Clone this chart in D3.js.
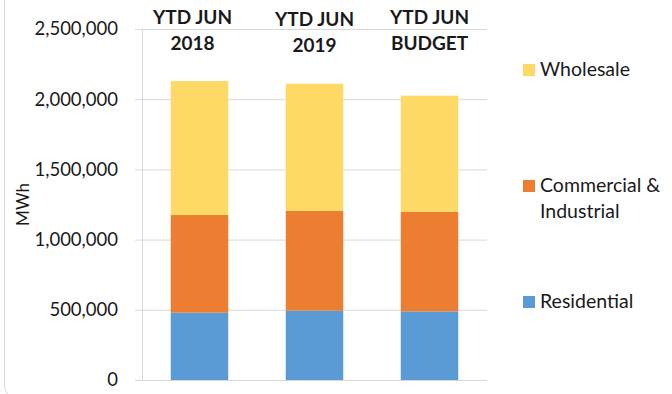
<!DOCTYPE html>
<html>
<head>
<meta charset="utf-8">
<script src="https://cdn.jsdelivr.net/npm/d3@7"></script>
<style>
  html, body { margin: 0; padding: 0; background: #fff; }
  text { font-family: Lato, "Open Sans", sans-serif; fill: #1a1a1a; }
</style>
</head>
<body>
<div id="chart-wrap"></div>
<script>
const categories = [['YTD JUN', '2018'], ['YTD JUN', '2019'], ['YTD JUN', 'BUDGET']];
const residential = [479000, 494000, 489000];
const commercial = [696000, 710000, 708000];
const wholesale = [954000, 906000, 828000];
const seriesNames = ['Residential', 'Commercial & Industrial', 'Wholesale'];
const tickValues = [0, 500000, 1000000, 1500000, 2000000, 2500000];

const colors = ['#5B9BD5', '#ED7D31', '#FFD966'];
const width = 672;
const height = 394;
const margin = { top: 29, right: 185, bottom: 14, left: 142 };

const svg = d3.select('#chart-wrap').append('svg')
  .attr('width', width)
  .attr('height', height);

// outer frame
svg.append('rect')
  .attr('x', 4.5)
  .attr('y', -20)
  .attr('width', 720)
  .attr('height', 418)
  .attr('rx', 12)
  .attr('fill', 'none')
  .attr('stroke', '#d9d9d9');

const x = d3.scaleBand()
  .domain(d3.range(categories.length))
  .range([margin.left, width - margin.right])
  .paddingInner(0.5)
  .paddingOuter(0.25);

const y = d3.scaleLinear()
  .domain([0, 2500000])
  .range([height - margin.bottom, margin.top]);

// gridlines + ticks
const yAxis = d3.axisLeft(y)
  .tickValues(tickValues)
  .tickSize(-(width - margin.right - margin.left))
  .tickSizeOuter(0)
  .tickPadding(24)
  .tickFormat(d3.format(','));

const gy = svg.append('g')
  .attr('transform', `translate(${margin.left},0)`)
  .call(yAxis);
gy.select('.domain').attr('stroke', '#d9d9d9');
gy.selectAll('.tick line').attr('stroke', '#d9d9d9');
gy.selectAll('.tick').append('line')
  .attr('x1', -7).attr('x2', 0)
  .attr('stroke', '#d9d9d9');
gy.selectAll('.tick text')
  .attr('font-size', 18.5)
  .attr('font-family', 'Lato, sans-serif')
  .attr('fill', '#1a1a1a');

// stacked bars
const rows = categories.map((c, i) => ({
  i,
  Residential: residential[i],
  'Commercial & Industrial': commercial[i],
  Wholesale: wholesale[i]
}));
const stacked = d3.stack().keys(seriesNames)(rows);

svg.append('g').selectAll('g')
  .data(stacked)
  .join('g')
  .attr('fill', (d, i) => colors[i])
  .selectAll('rect')
  .data(d => d)
  .join('rect')
  .attr('x', d => x(d.data.i))
  .attr('width', x.bandwidth())
  .attr('y', d => y(d[1]))
  .attr('height', d => y(d[0]) - y(d[1]));

// category labels on top
const lab = svg.append('g').selectAll('text')
  .data(categories)
  .join('text')
  .attr('text-anchor', 'middle')
  .attr('font-weight', 'bold')
  .attr('font-size', 19)
  .attr('transform', (d, i) => `translate(${x(i) + x.bandwidth() / 2 - (i === 0 ? 7 : 0)},${i === 1 ? 2 : 0})`);
lab.append('tspan').attr('x', 0).attr('y', 24).text(d => d[0]);
lab.append('tspan').attr('x', 0).attr('y', 50).text(d => d[1]);

// y title
svg.append('text')
  .attr('transform', `translate(29,${(margin.top + height - margin.bottom) / 2}) rotate(-90)`)
  .attr('text-anchor', 'middle')
  .attr('font-size', 17)
  .text('MWh');

// legend
const legendItems = [
  { name: 'Wholesale', lines: ['Wholesale'], color: colors[2], y: 70 },
  { name: 'Commercial & Industrial', lines: ['Commercial &', 'Industrial'], color: colors[1], y: 186 },
  { name: 'Residential', lines: ['Residential'], color: colors[0], y: 302 }
];
const lg = svg.append('g').selectAll('g')
  .data(legendItems)
  .join('g')
  .attr('transform', d => `translate(523,${d.y})`);
lg.append('rect')
  .attr('x', 0).attr('y', -6)
  .attr('width', 12).attr('height', 12)
  .attr('fill', d => d.color);
lg.append('text')
  .attr('font-size', 19.5)
  .selectAll('tspan')
  .data(d => d.lines)
  .join('tspan')
  .attr('x', 17)
  .attr('y', (d, i) => 6 + i * 26)
  .text(d => d);
</script>
</body>
</html>
